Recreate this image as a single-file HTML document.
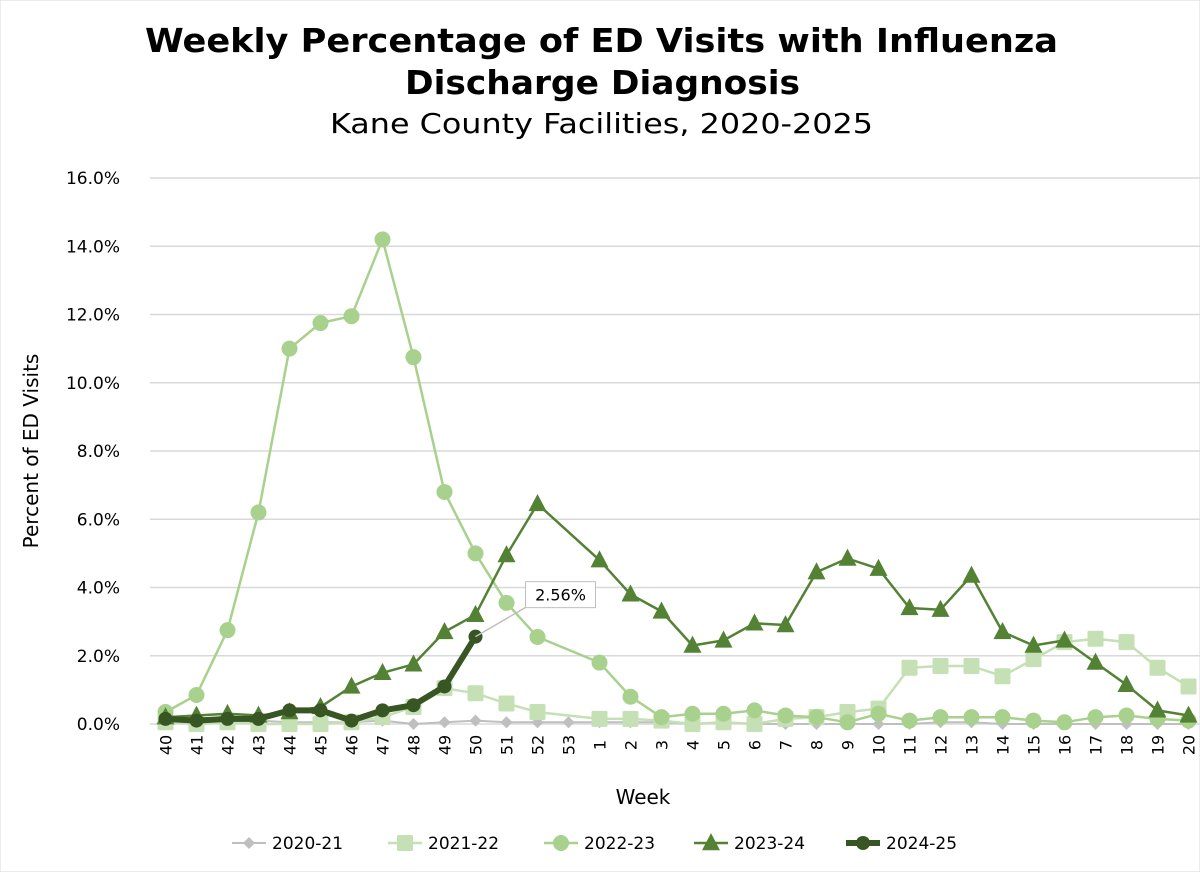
<!DOCTYPE html>
<html><head><meta charset="utf-8"><style>
body{margin:0;background:#fff;font-family:"DejaVu Sans","Liberation Sans",sans-serif}
svg text{font-family:"DejaVu Sans","Liberation Sans",sans-serif}
</style></head><body>
<svg id="chart" width="1200" height="872" xmlns="http://www.w3.org/2000/svg">
<rect width="1200" height="872" fill="#fff" stroke="#d9d9d9"/>
<text x="145" y="52" textLength="913" lengthAdjust="spacingAndGlyphs" font-size="33" font-weight="bold" fill="#000">Weekly Percentage of ED Visits with Influenza</text>
<text x="405" y="94" textLength="395" lengthAdjust="spacingAndGlyphs" font-size="33" font-weight="bold" fill="#000">Discharge Diagnosis</text>
<text x="330" y="133" textLength="543" lengthAdjust="spacingAndGlyphs" font-size="28" fill="#000">Kane County Facilities, 2020-2025</text>
<text transform="translate(38,451) rotate(-90)" text-anchor="middle" font-size="20" fill="#000">Percent of ED Visits</text>
<text x="643" y="804" text-anchor="middle" font-size="20" fill="#000">Week</text>
<g id="grid"></g><g id="series"></g><g id="xt"></g>
</svg>
<script>
const categories=['40','41','42','43','44','45','46','47','48','49','50','51','52','53','1','2','3','4','5','6','7','8','9','10','11','12','13','14','15','16','17','18','19','20'];
const yTicks=[0,2,4,6,8,10,12,14,16];
const s2021=[0.1,0.05,0.05,0.1,0.05,0.05,0.05,0.1,0.0,0.05,0.1,0.05,0.05,0.05,0.05,0.05,0.05,0.0,0.05,0.0,0.0,0.0,0.0,0.0,0.0,0.05,0.05,0.0,0.0,0.0,0.0,0.0,0.0,0.0];
const s2122=[0.05,0.0,0.05,0.0,0.0,0.0,0.05,0.2,0.5,1.05,0.9,0.6,0.35,null,0.15,0.15,0.1,0.0,0.05,0.0,0.15,0.2,0.35,0.45,1.65,1.7,1.7,1.4,1.9,2.4,2.5,2.4,1.65,1.1];
const s2223=[0.35,0.85,2.75,6.2,11.0,11.75,11.95,14.2,10.75,6.8,5.0,3.55,2.55,null,1.8,0.8,0.2,0.3,0.3,0.4,0.25,0.2,0.05,0.3,0.1,0.2,0.2,0.2,0.1,0.05,0.2,0.25,0.15,0.1];
const s2324=[0.2,0.25,0.3,0.25,0.35,0.5,1.1,1.5,1.75,2.7,3.2,4.95,6.45,null,4.8,3.8,3.3,2.3,2.45,2.95,2.9,4.45,4.85,4.55,3.4,3.35,4.35,2.7,2.3,2.45,1.8,1.15,0.4,0.25];
const s2425=[0.15,0.1,0.15,0.15,0.4,0.4,0.1,0.4,0.55,1.1,2.56];
const seriesNames=['2020-21','2021-22','2022-23','2023-24','2024-25'];
const NS='http://www.w3.org/2000/svg';
const X0=150,X1=1204,Y0=724,Y1=178;
const band=(X1-X0)/categories.length;
function xs(i){return X0+band*(i+0.5);}
function ys(v){return Y0-(v/16)*(Y0-Y1);}
function mk(tag,attrs,parent){const e=document.createElementNS(NS,tag);for(const k in attrs)e.setAttribute(k,attrs[k]);parent.appendChild(e);return e;}
const grid=document.getElementById('grid');
yTicks.forEach(t=>{
 const l=mk('line',{x1:X0,x2:X1,y1:ys(t),y2:ys(t),stroke:'#d9d9d9','stroke-width':1.5},grid);
 
 
 const tx=mk('text',{x:120,y:ys(t)+6,'text-anchor':'end','font-size':17,fill:'#000'},grid);
 tx.textContent=t.toFixed(1)+'%';
 
 
});
const xt=document.getElementById('xt');
categories.forEach((c,i)=>{
 const tx=mk('text',{transform:`translate(${xs(i)+6},${745}) rotate(-90)`,'text-anchor':'middle','font-size':16,fill:'#000'},xt);
 tx.textContent=c;
 
 
});
const ser=document.getElementById('series');
const styles=[
 {data:s2021,color:'#bfbfbf',w:2,m:'diamond',ms:6},
 {data:s2122,color:'#c5e0b4',w:2.5,m:'square',ms:8},
 {data:s2223,color:'#a9d18e',w:2.5,m:'circle',ms:8},
 {data:s2324,color:'#548235',w:2.5,m:'triangle',ms:9},
 {data:s2425,color:'#375623',w:6,m:'circle',ms:7}];
function marker(g,type,x,y,s,c){
 let e;
 if(type==='circle')e=mk('circle',{cx:x,cy:y,r:s,fill:c},g);
 else if(type==='square')e=mk('rect',{x:x-s,y:y-s,width:2*s,height:2*s,fill:c,rx:1.5},g);
 else if(type==='diamond')e=mk('polygon',{points:`${x},${y-s} ${x+s},${y} ${x},${y+s} ${x-s},${y}`,fill:c},g);
 else e=mk('polygon',{points:`${x},${y-s*1.1} ${x+s},${y+s*0.8} ${x-s},${y+s*0.8}`,fill:c},g);
 return e;
}
styles.forEach((st,si)=>{
 const g=mk('g',{},ser);
 
 
 let d='';
 st.data.forEach((v,i)=>{if(v===null)return;d+=(d?'L':'M')+xs(i).toFixed(1)+','+ys(v).toFixed(1);});
 mk('path',{d:d,fill:'none',stroke:st.color,'stroke-width':st.w,'stroke-linejoin':'round'},g);
 st.data.forEach((v,i)=>{if(v===null)return;
  const m=marker(g,st.m,xs(i),ys(v),st.ms,st.color);
  
  
 });
});
const li=s2425.length-1;
const lx=xs(li),ly=ys(s2425[li]);
const lab=mk('g',{},ser);


mk('line',{x1:lx,y1:ly,x2:lx+60,y2:ly-35,stroke:'#bfbfbf','stroke-width':1.5},lab);
mk('rect',{x:lx+50,y:ly-55,width:70,height:26,fill:'#fff',stroke:'#bfbfbf'},lab);
const lt=mk('text',{x:lx+85,y:ly-36,'text-anchor':'middle','font-size':16,fill:'#000'},lab);
lt.textContent=s2425[li].toFixed(2)+'%';
const leg=mk('g',{},document.getElementById('chart'));


const lxs=[232,388,544,694,846];
styles.forEach((st,si)=>{
 const g=mk('g',{},leg);
 
 
 const x=lxs[si],y=843;
 mk('line',{x1:x,x2:x+34,y1:y,y2:y,stroke:st.color,'stroke-width':st.w},g);
 marker(g,st.m,x+17,y,st.ms,st.color);
 const t=mk('text',{x:x+40,y:y+6,'font-size':17,fill:'#000'},g);
 t.textContent=seriesNames[si];
});
</script>
</body></html>
